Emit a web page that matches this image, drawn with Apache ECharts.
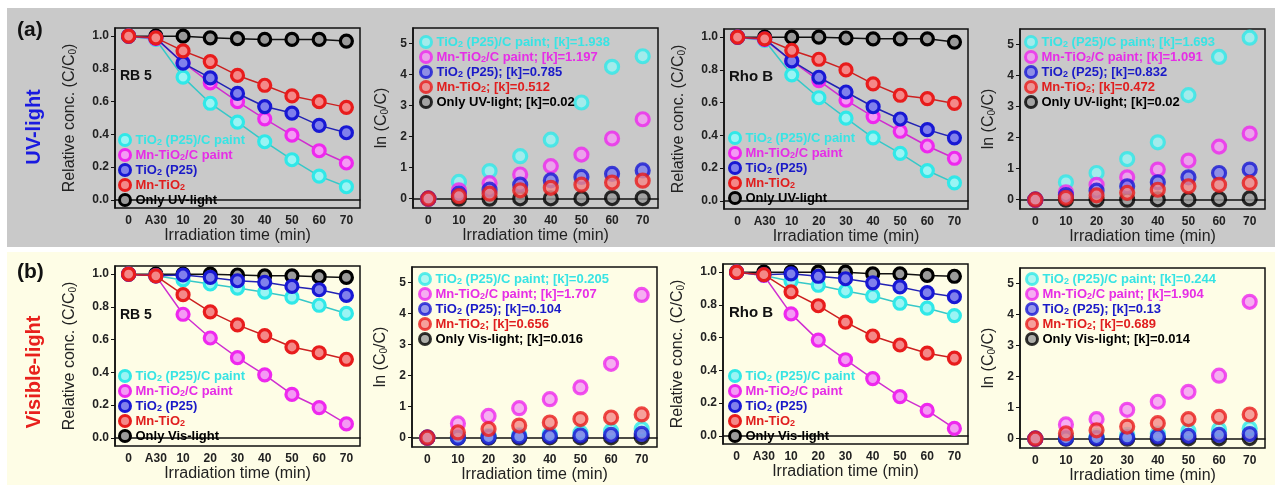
<!DOCTYPE html>
<html><head><meta charset="utf-8">
<script src="https://cdn.jsdelivr.net/npm/echarts@6/dist/echarts.min.js"></script>
<style>html,body{margin:0;padding:0;background:#fff}#c{width:1275px;height:485px}</style>
</head><body><div id="c"></div>
<script>
// ---------- categories / tick labels ----------
const relCats = ['0','A30','10','20','30','40','50','60','70'];
const lnCats  = ['0','10','20','30','40','50','60','70'];
const relTicks = [0, 0.2, 0.4, 0.6, 0.8, 1.0];
const lnTicks  = [0, 1, 2, 3, 4, 5];

// ---------- series names ----------
const namesUV  = ['TiO2 (P25)/C paint','Mn-TiO2/C paint','TiO2 (P25)','Mn-TiO2','Only UV-light'];
const namesVis = ['TiO2 (P25)/C paint','Mn-TiO2/C paint','TiO2 (P25)','Mn-TiO2','Only Vis-light'];
const kRB5UV   = ['1.938','1.197','0.785','0.512','0.02'];
const kRhoUV   = ['1.693','1.091','0.832','0.472','0.02'];
const kRB5Vis  = ['0.205','1.707','0.104','0.656','0.016'];
const kRhoVis  = ['0.244','1.904','0.13','0.689','0.014'];

// ---------- data (order: TiO2(P25)/C paint, Mn-TiO2/C paint, TiO2(P25), Mn-TiO2, only light) ----------
// RB 5, UV, C/C0
const rb5UvRelCyan    = [1.0, 0.98, 0.75, 0.59, 0.475, 0.355, 0.245, 0.145, 0.08];
const rb5UvRelMagenta = [1.0, 0.985, 0.84, 0.715, 0.60, 0.495, 0.395, 0.30, 0.225];
const rb5UvRelBlue    = [1.0, 0.99, 0.835, 0.745, 0.65, 0.57, 0.53, 0.455, 0.41];
const rb5UvRelRed     = [1.0, 0.99, 0.91, 0.845, 0.76, 0.70, 0.635, 0.60, 0.565];
const rb5UvRelBlack   = [1.0, 1.0, 1.0, 0.99, 0.985, 0.98, 0.98, 0.98, 0.97];
// RB 5, UV, ln(C0/C)
const rb5UvLnCyan    = [0, 0.54, 0.89, 1.37, 1.90, 3.10, 4.25, 4.59];
const rb5UvLnMagenta = [0, 0.27, 0.50, 0.78, 1.05, 1.42, 1.94, 2.56];
const rb5UvLnBlue    = [0, 0.16, 0.29, 0.45, 0.59, 0.70, 0.80, 0.91];
const rb5UvLnRed     = [0, 0.08, 0.16, 0.27, 0.35, 0.45, 0.52, 0.58];
const rb5UvLnBlack   = [0, 0.0, 0.0, 0.01, 0.01, 0.01, 0.02, 0.02];
// Rho B, UV, C/C0
const rhoUvRelCyan    = [1.0, 0.98, 0.77, 0.63, 0.505, 0.385, 0.29, 0.185, 0.11];
const rhoUvRelMagenta = [1.0, 0.985, 0.855, 0.735, 0.615, 0.515, 0.425, 0.335, 0.26];
const rhoUvRelBlue    = [1.0, 0.99, 0.855, 0.755, 0.665, 0.575, 0.50, 0.435, 0.385];
const rhoUvRelRed     = [1.0, 0.99, 0.92, 0.865, 0.80, 0.715, 0.645, 0.625, 0.595];
const rhoUvRelBlack   = [1.0, 1.0, 1.0, 1.0, 0.995, 0.99, 0.99, 0.99, 0.97];
// Rho B, UV, ln(C0/C)
const rhoUvLnCyan    = [0, 0.56, 0.86, 1.31, 1.85, 3.37, 4.60, 5.22];
const rhoUvLnMagenta = [0, 0.24, 0.48, 0.72, 0.97, 1.26, 1.71, 2.13];
const rhoUvLnBlue    = [0, 0.15, 0.29, 0.43, 0.56, 0.72, 0.86, 0.97];
const rhoUvLnRed     = [0, 0.06, 0.14, 0.22, 0.32, 0.43, 0.48, 0.54];
const rhoUvLnBlack   = [0, 0, 0, 0, 0.01, 0.01, 0.02, 0.04];
// RB 5, Vis, C/C0
const rb5VisRelCyan    = [1.0, 0.99, 0.965, 0.94, 0.915, 0.89, 0.86, 0.81, 0.76];
const rb5VisRelMagenta = [1.0, 0.99, 0.755, 0.61, 0.49, 0.385, 0.265, 0.185, 0.085];
const rb5VisRelBlue    = [1.0, 0.99, 0.995, 0.98, 0.96, 0.95, 0.925, 0.905, 0.87];
const rb5VisRelRed     = [1.0, 0.99, 0.875, 0.77, 0.69, 0.625, 0.555, 0.52, 0.48];
const rb5VisRelBlack   = [1.0, 1.0, 1.0, 1.0, 0.995, 0.99, 0.99, 0.985, 0.98];
// RB 5, Vis, ln(C0/C)
const rb5VisLnCyan    = [0, 0.03, 0.06, 0.09, 0.12, 0.16, 0.22, 0.28];
const rb5VisLnMagenta = [0, 0.46, 0.70, 0.95, 1.24, 1.62, 2.38, 4.60];
const rb5VisLnBlue    = [0, 0.0, 0.02, 0.04, 0.05, 0.07, 0.09, 0.12];
const rb5VisLnRed     = [0, 0.17, 0.28, 0.39, 0.49, 0.60, 0.65, 0.75];
const rb5VisLnBlack   = [0, 0, 0, 0, 0.01, 0.01, 0.01, 0.02];
// Rho B, Vis, C/C0
const rhoVisRelCyan    = [1.0, 0.98, 0.945, 0.92, 0.885, 0.855, 0.81, 0.78, 0.735];
const rhoVisRelMagenta = [1.0, 0.98, 0.745, 0.585, 0.465, 0.35, 0.24, 0.155, 0.045];
const rhoVisRelBlue    = [1.0, 0.985, 0.99, 0.975, 0.96, 0.935, 0.91, 0.875, 0.85];
const rhoVisRelRed     = [1.0, 0.985, 0.88, 0.795, 0.695, 0.61, 0.555, 0.505, 0.475];
const rhoVisRelBlack   = [1.0, 1.0, 1.0, 1.0, 1.0, 0.99, 0.99, 0.98, 0.975];
// Rho B, Vis, ln(C0/C)
const rhoVisLnCyan    = [0, 0.05, 0.08, 0.12, 0.16, 0.25, 0.30, 0.33];
const rhoVisLnMagenta = [0, 0.46, 0.63, 0.93, 1.19, 1.51, 2.03, 4.41];
const rhoVisLnBlue    = [0, 0.01, 0.02, 0.04, 0.07, 0.09, 0.12, 0.15];
const rhoVisLnRed     = [0, 0.17, 0.27, 0.39, 0.50, 0.63, 0.70, 0.78];
const rhoVisLnBlack   = [0, 0, 0, 0, 0, 0.01, 0.01, 0.02];

// ---------- styles ----------
const FONT = '"Liberation Sans", Arial, sans-serif';
const RING   = ['#30e8e8','#ee28ee','#1818d4','#e81c1c','#000000'];
const FILL   = ['#9af4f4','#f49af4','#8080ec','#f48888','#9a9a9a'];
const LINE   = ['#36c8c8','#d02ed0','#2222b4','#cc2020','#111111'];
const TXT    = ['#38e4e4','#e62ee6','#1a1ac8','#e01e1e','#000000'];

const panels = [
  {type:'rel', grid:{left:115,top:28,width:245,height:180}, data:[rb5UvRelCyan,rb5UvRelMagenta,rb5UvRelBlue,rb5UvRelRed,rb5UvRelBlack], names:namesUV, k:null, lg:{left:118,top:133}},
  {type:'ln',  grid:{left:413,top:28,width:245,height:180}, data:[rb5UvLnCyan,rb5UvLnMagenta,rb5UvLnBlue,rb5UvLnRed,rb5UvLnBlack], names:namesUV, k:kRB5UV, lg:{left:419,top:35}},
  {type:'rel', grid:{left:724,top:29,width:244,height:180}, data:[rhoUvRelCyan,rhoUvRelMagenta,rhoUvRelBlue,rhoUvRelRed,rhoUvRelBlack], names:namesUV, k:null, lg:{left:728,top:131}},
  {type:'ln',  grid:{left:1020,top:29,width:245,height:180}, data:[rhoUvLnCyan,rhoUvLnMagenta,rhoUvLnBlue,rhoUvLnRed,rhoUvLnBlack], names:namesUV, k:kRhoUV, lg:{left:1024,top:35}},
  {type:'rel', grid:{left:115,top:266,width:245,height:180}, data:[rb5VisRelCyan,rb5VisRelMagenta,rb5VisRelBlue,rb5VisRelRed,rb5VisRelBlack], names:namesVis, k:null, lg:{left:118,top:369}},
  {type:'ln',  grid:{left:412,top:267,width:245,height:180}, data:[rb5VisLnCyan,rb5VisLnMagenta,rb5VisLnBlue,rb5VisLnRed,rb5VisLnBlack], names:namesVis, k:kRB5Vis, lg:{left:418,top:272}},
  {type:'rel', grid:{left:723,top:264,width:245,height:180}, data:[rhoVisRelCyan,rhoVisRelMagenta,rhoVisRelBlue,rhoVisRelRed,rhoVisRelBlack], names:namesVis, k:null, lg:{left:728,top:369}},
  {type:'ln',  grid:{left:1020,top:268,width:245,height:180}, data:[rhoVisLnCyan,rhoVisLnMagenta,rhoVisLnBlue,rhoVisLnRed,rhoVisLnBlack], names:namesVis, k:kRhoVis, lg:{left:1025,top:272}}
];

// rich styles for legend text per colour (normal + subscript)
const legendRich = {};
TXT.forEach((c, j) => {
  legendRich['t' + j] = {color: c, fontSize: 13, fontWeight: 'bold', fontFamily: FONT, lineHeight: 14};
  legendRich['s' + j] = {color: c, fontSize: 9, fontWeight: 'bold', fontFamily: FONT, lineHeight: 9, verticalAlign: 'bottom'};
});
const nameColorIdx = {};
function fmtLegend(name) {
  const j = nameColorIdx[name];
  const parts = name.split('TiO2');
  let out = '';
  parts.forEach((p, i) => {
    if (p) out += '{t' + j + '|' + p + '}';
    if (i < parts.length - 1) out += '{t' + j + '|TiO}{s' + j + '|2}';
  });
  return out;
}

const axisNameRich = {
  sub: {fontSize: 10, fontFamily: FONT, color: '#222', lineHeight: 10, verticalAlign: 'bottom'}
};

const grids = [], xAxes = [], yAxes = [], series = [], legends = [];
const drawOrder = [4, 0, 1, 2, 3];

panels.forEach((p, i) => {
  grids.push(Object.assign({show: true, borderColor: '#111', borderWidth: 1.5, backgroundColor: 'transparent'}, p.grid));
  xAxes.push({
    type: 'category', gridIndex: i, data: p.type === 'rel' ? relCats : lnCats, boundaryGap: true,
    axisLine: {lineStyle: {color: '#111', width: 1.5}},
    axisTick: {alignWithLabel: true, interval: 0, length: 4, lineStyle: {color: '#111', width: 1}},
    axisLabel: {interval: 0, fontSize: 12, fontWeight: 'bold', color: '#222', fontFamily: FONT, margin: 7, hideOverlap: false},
    splitLine: {show: false},
    name: 'Irradiation time (min)', nameLocation: 'middle', nameGap: 20,
    nameTextStyle: {fontSize: 16, color: '#222', fontFamily: FONT}
  });
  const rel = p.type === 'rel';
  yAxes.push({
    type: 'value', gridIndex: i,
    min: rel ? -0.05 : -0.3, max: rel ? 1.05 : 5.5,
    axisLine: {show: true, lineStyle: {color: '#111', width: 1.5}},
    axisTick: {show: true, length: 4, lineStyle: {color: '#111', width: 1}, customValues: rel ? relTicks : lnTicks},
    axisLabel: {fontSize: 12, fontWeight: 'bold', color: '#222', fontFamily: FONT, margin: 6,
      customValues: rel ? relTicks : lnTicks,
      formatter: v => rel ? Number(v).toFixed(1) : String(Math.round(v))},
    splitLine: {show: false},
    name: rel ? 'Relative conc. (C/C{sub|0})' : 'ln (C{sub|0}/C)',
    nameLocation: 'middle', nameGap: rel ? 37 : 23,
    nameTextStyle: {fontSize: 16, color: '#222', fontFamily: FONT, rich: axisNameRich}
  });
  const legendNames = p.names.map((n, j) => p.k ? n + '; [k]=' + p.k[j] : n);
  legendNames.forEach((n, j) => { nameColorIdx[n] = j; });
  drawOrder.forEach(j => {
    const common = {
      name: legendNames[j], xAxisIndex: i, yAxisIndex: i, data: p.data[j],
      symbol: 'circle', itemStyle: {color: FILL[j], borderColor: RING[j], borderWidth: 3.2},
      animation: false, z: 2 + drawOrder.indexOf(j) * 0.01
    };
    if (rel) {
      series.push(Object.assign(common, {type: 'line', symbolSize: 12, lineStyle: {color: LINE[j], width: 1.5}}));
    } else {
      series.push(Object.assign(common, {type: 'scatter', symbolSize: 13}));
    }
  });
  legends.push({
    orient: 'vertical', left: p.lg.left, top: p.lg.top, padding: 0, itemGap: 1,
    itemWidth: 11, itemHeight: 11, icon: 'circle', selectedMode: false,
    data: legendNames.map((n, j) => ({name: n, itemStyle: {color: FILL[j], borderColor: RING[j], borderWidth: 3}})),
    formatter: fmtLegend,
    textStyle: {fontSize: 13, fontWeight: 'bold', fontFamily: FONT, lineHeight: 14, rich: legendRich}
  });
});

function txt(x, y, text, font, fill, align, rot) {
  return {type: 'text', x: x, y: y, rotation: rot || 0, z: 50,
    style: {text: text, font: font, fill: fill, align: align || 'left', verticalAlign: 'middle',
            textAlign: align || 'left', textVerticalAlign: 'middle'}};
}

const graphics = [
  {type: 'rect', shape: {x: 7, y: 8, width: 1268, height: 239}, style: {fill: '#c9c9c9'}, z: -10, silent: true},
  {type: 'rect', shape: {x: 7, y: 252, width: 1268, height: 233}, style: {fill: '#fefde6'}, z: -10, silent: true},
  txt(17, 30, '(a)', 'bold 21px ' + FONT, '#111'),
  txt(17, 272, '(b)', 'bold 21px ' + FONT, '#111'),
  txt(34, 127, 'UV-light', 'bold 20px ' + FONT, '#1a1ae0', 'center', Math.PI / 2),
  txt(34, 372, 'Visible-light', 'bold 20px ' + FONT, '#e8201c', 'center', Math.PI / 2),
  txt(120, 76, 'RB 5', 'bold 14px ' + FONT, '#111'),
  txt(120, 315, 'RB 5', 'bold 14px ' + FONT, '#111'),
  txt(729, 77, 'Rho B', 'bold 15px ' + FONT, '#111'),
  txt(729, 313, 'Rho B', 'bold 15px ' + FONT, '#111')
];

const chart = echarts.init(document.getElementById('c'), null, {renderer: 'canvas'});
chart.setOption({
  backgroundColor: '#ffffff',
  animation: false,
  grid: grids, xAxis: xAxes, yAxis: yAxes, legend: legends, series: series,
  graphic: graphics
});
</script></body></html>
